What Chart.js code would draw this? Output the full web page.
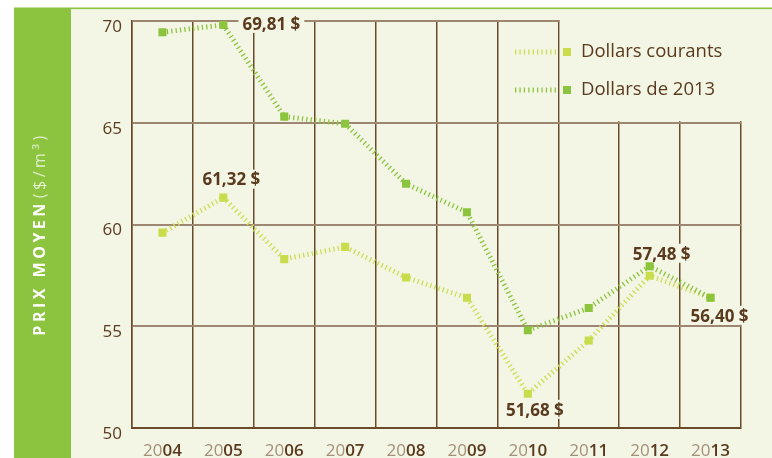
<!DOCTYPE html>
<html><head><meta charset="utf-8">
<script src="https://cdn.jsdelivr.net/npm/chart.js@4.4.1/dist/chart.umd.min.js"></script>
<style>html,body{margin:0;padding:0;background:#fff;}canvas{display:block;}</style>
</head><body>
<canvas id="c" width="772" height="458"></canvas>
<script>
// ---- data ----
const years = ['2004','2005','2006','2007','2008','2009','2010','2011','2012','2013'];
const dollarsCourants = [59.6, 61.32, 58.3, 58.9, 57.4, 56.4, 51.68, 54.3, 57.48, 56.40];
const dollars2013 = [69.45, 69.81, 65.3, 64.95, 62.0, 60.6, 54.8, 55.9, 57.95, 56.40];
const yTicks = [50, 55, 60, 65, 70];
const seriesNames = ['Dollars courants', 'Dollars de 2013'];
const yTitleParts = ['PRIX MOYEN', '($/m³)'];
// annotated points: [series index, point index]
const annotated = [[1, 1], [0, 1], [0, 6], [0, 8], [1, 9]];

// ---- styles ----
const BROWN = '#5a3a1e', GRID = '#6b4a2a', GRID_LIGHT = '#9d8772';
const CREAM = '#f3f6e4', GREEN = '#8dc43f', LIME = '#c9dc4b';
const FONT = '"Open Sans", "Noto Sans", sans-serif';
const DASH = [1.3, 3.1];
const labelOffsets = {'1-1': [48, -1], '0-1': [8, -18], '0-6': [7, 16], '0-8': [12, -22], '1-9': [9, 18]};
const fmt = v => v.toFixed(2).replace('.', ',') + ' $';

const deco = {
  id: 'deco',
  beforeDraw(chart) {
    const c = chart.ctx;
    c.save();
    c.fillStyle = '#fff'; c.fillRect(0, 0, 772, 458);
    c.fillStyle = CREAM; c.fillRect(14, 9, 758, 449);
    c.fillStyle = GREEN; c.fillRect(14, 7.5, 758, 1.6);
    c.fillRect(14, 8, 57, 450);
    c.restore();
  },
  beforeDatasetsDraw(chart) {
    const c = chart.ctx, xs = chart.scales.x, ys = chart.scales.y, a = chart.chartArea;
    c.save();
    // legend cover box
    const bx = (xs.getPixelForValue(6) + xs.getPixelForValue(7)) / 2 + 1.5;
    const by = ys.getPixelForValue(65) - 1.5;
    c.fillStyle = CREAM;
    c.fillRect(bx, a.top - 3, 772 - bx, by - a.top + 3);
    // legend items
    const cols = [LIME, GREEN], lineCols = ['#cddd55', GREEN];
    seriesNames.forEach((n, i) => {
      const y = 52 + i * 38;
      c.setLineDash(DASH); c.lineWidth = 5; c.strokeStyle = lineCols[i];
      c.beginPath(); c.moveTo(515, y); c.lineTo(559, y); c.stroke();
      c.setLineDash([]);
      c.fillStyle = cols[i]; c.fillRect(563, y - 4, 8, 8);
      c.fillStyle = BROWN; c.font = '18.5px ' + FONT; c.textBaseline = 'middle'; c.textAlign = 'left';
      c.fillText(n, 581, y);
    });
    // label backgrounds
    c.font = 'bold 17px ' + FONT;
    annotated.forEach(([s, i]) => {
      const p = chart.getDatasetMeta(s).data[i];
      const o = labelOffsets[s + '-' + i];
      const t = fmt(chart.data.datasets[s].data[i]);
      const w = c.measureText(t).width;
      const cx = p.x + o[0], cy = p.y + o[1];
      c.fillStyle = CREAM;
      c.fillRect(cx - w / 2 - 4, cy - 10, w + 8, 19);
    });
    c.restore();
  },
  afterDatasetsDraw(chart) {
    const c = chart.ctx;
    c.save();
    c.font = 'bold 17px ' + FONT; c.fillStyle = BROWN;
    c.textAlign = 'center'; c.textBaseline = 'middle';
    annotated.forEach(([s, i]) => {
      const p = chart.getDatasetMeta(s).data[i];
      const o = labelOffsets[s + '-' + i];
      c.fillText(fmt(chart.data.datasets[s].data[i]), p.x + o[0], p.y + o[1] + 1);
    });
    c.restore();
  },
  afterDraw(chart) {
    const c = chart.ctx, xs = chart.scales.x;
    c.save();
    // x labels with two-tone years
    c.textBaseline = 'alphabetic'; c.textAlign = 'left';
    years.forEach((yr, i) => {
      const x = xs.getPixelForValue(i);
      const p1 = yr.slice(0, 2), p2 = yr.slice(2);
      c.font = '17px ' + FONT; const w1 = c.measureText(p1).width;
      c.font = '600 17px ' + FONT; const w2 = c.measureText(p2).width;
      const x0 = x - (w1 + w2) / 2;
      c.font = '17px ' + FONT; c.fillStyle = '#a38f7a'; c.fillText(p1, x0, 456);
      c.font = '600 17px ' + FONT; c.fillStyle = BROWN; c.fillText(p2, x0 + w1, 456);
    });
    // y axis title
    c.translate(44.5, 234); c.rotate(-Math.PI / 2);
    c.letterSpacing = '3.5px';
    c.font = 'bold 16px ' + FONT; const w1 = c.measureText(yTitleParts[0]).width;
    c.font = '16px ' + FONT; const w2 = c.measureText(yTitleParts[1]).width;
    const x0 = -(w1 + w2 + 2) / 2;
    c.font = 'bold 16px ' + FONT; c.fillStyle = '#ffffff'; c.fillText(yTitleParts[0], x0, 0);
    c.font = '16px ' + FONT; c.fillStyle = 'rgba(255,255,255,0.72)'; c.fillText(yTitleParts[1], x0 + w1 + 2, 0);
    c.restore();
  }
};

new Chart(document.getElementById('c'), {
  type: 'line',
  data: {
    labels: years,
    datasets: [
      {label: seriesNames[0], data: dollarsCourants, borderColor: '#cddd55', borderWidth: 5, borderDash: DASH,
       pointStyle: 'rect', pointRadius: 5.7, pointBackgroundColor: LIME, pointBorderWidth: 0, tension: 0, order: 1},
      {label: seriesNames[1], data: dollars2013, borderColor: GREEN, borderWidth: 5, borderDash: DASH,
       pointStyle: 'rect', pointRadius: 5.7, pointBackgroundColor: '#8cc43e', pointBorderWidth: 0, tension: 0, order: 0}
    ]
  },
  options: {
    responsive: false, animation: false, devicePixelRatio: 1,
    layout: {padding: {left: 0, right: 31, top: 21, bottom: 0}},
    plugins: {legend: {display: false}, tooltip: {enabled: false}},
    scales: {
      x: {
        offset: true,
        grid: {offset: true, drawTicks: false,
               color: c => c.index === years.length ? GRID_LIGHT : GRID,
               lineWidth: c => c.index === years.length ? 2 : 1.5},
        border: {display: true, color: GRID, width: 2},
        ticks: {display: false},
        afterFit: s => { s.height = 30; }
      },
      y: {
        min: 50, max: 70,
        afterBuildTicks: s => { s.ticks = yTicks.map(v => ({value: v})); },
        grid: {drawTicks: false,
               color: c => c.tick && c.tick.value === 50 ? GRID : GRID_LIGHT,
               lineWidth: 2},
        border: {display: true, color: GRID, width: 1.5},
        ticks: {color: BROWN, font: {family: FONT, size: 17}, padding: 10, labelOffset: 6},
        afterFit: s => { s.width = 132; }
      }
    }
  },
  plugins: [deco]
});
</script>
</body></html>
